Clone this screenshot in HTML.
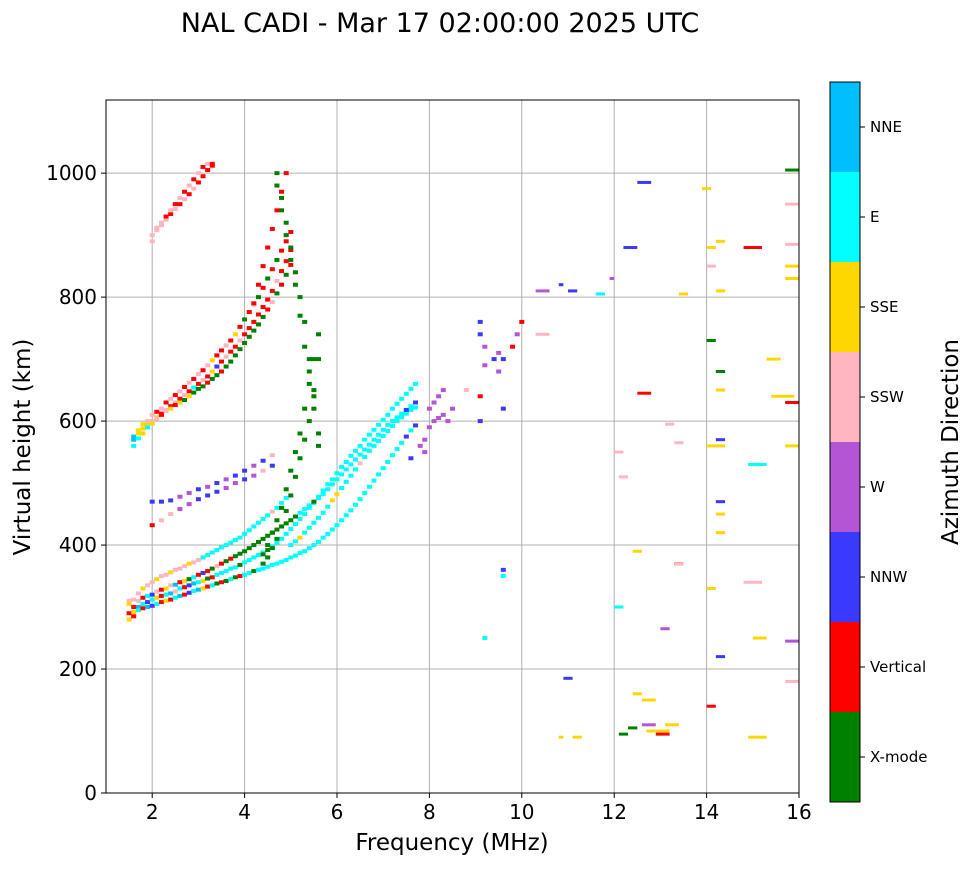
<!DOCTYPE html>
<html><head><meta charset="utf-8">
<style>
body{margin:0;background:#fff;width:972px;height:865px;overflow:hidden;font-family:"Liberation Sans","DejaVu Sans",sans-serif;}
svg text{font-family:"DejaVu Sans","Liberation Sans",sans-serif;}
</style></head>
<body>
<svg id="chart" width="972" height="865" xmlns="http://www.w3.org/2000/svg">
<text x="440" y="32" font-size="27" text-anchor="middle">NAL CADI - Mar 17 02:00:00 2025 UTC</text>
<g id="grid"></g>
<g id="marks"></g>
<g id="axes"></g>
<text x="452" y="850" font-size="23" text-anchor="middle">Frequency (MHz)</text>
<text transform="translate(30,447) rotate(-90)" font-size="23" text-anchor="middle">Virtual height (km)</text>
<g id="cbar"></g>
<text transform="translate(958,442) rotate(-90)" font-size="23" text-anchor="middle">Azimuth Direction</text>
</svg>
<script>
const xTicks=[2,4,6,8,10,12,14,16];
const yTicks=[0,200,400,600,800,1000];
const dirNames=["X-mode","Vertical","NNW","W","SSW","SSE","E","NNE"];
const dirColors=["#008000","#ff0000","#3a3aff","#b455d6","#ffb6c1","#ffd700","#00ffff","#00bfff"];
const trA_f=[1.5,1.6,1.7,1.8,1.9,2.0,2.1,2.2,2.3,2.4,2.5,2.6,2.7,2.8,2.9,3.0,3.1,3.2,3.3,3.4,3.5,3.6,3.7,3.8,3.9,4.0,4.1,4.2,4.3,4.4,4.5,4.6,4.7,4.8,4.9,5.0,5.1,5.2,5.3,5.4,5.5,5.6,5.7,5.8,5.9,6.0,6.1,6.2,6.3,6.4,6.5,6.6,6.7,6.8,6.9,7.0,7.1,7.2,7.3,7.4,7.5,7.6,7.7];
const trA_h=[290,292,295,298,300,302,305,308,310,312,315,318,320,323,326,328,330,333,335,338,340,342,345,348,350,352,355,358,360,362,365,368,370,373,376,380,383,387,390,395,400,405,412,418,425,432,440,448,456,465,474,484,494,504,514,524,534,545,555,565,575,585,593];
const trA_c="15617261516712675160106016606666666666666666666666666666666626232";
const trB_h=[305,300,310,315,318,320,325,328,330,335,336,340,342,345,348,352,355,358,362,366,370,374,378,382,386,390,395,400,405,410,415,420,425,430,435,440,446,452,458,464,470,476,482,490,498,506,514,522,530,538,546,554,562,570,578,586,594,600,606,612,618,624,630];
const trB_c="51416241547150612104101000000000000006660666666666666666666626262";
const trK_h=[280,285,300,305,308,312,315,318,320,322,325,330,332,335,338,340,342,346,348,352,355,358,362,364,368,372,376,380,384,388,392,398,404,410,418,426,434,442,450,460,468,478,488,498,506,516,526,534,544,552,560,570,578,586,594,602,610,620,628,636,644,652,660];
const trK_c="51762651674612765016666606666606666666666666666666666666666666666";
const trL_h=[310,312,322,330,335,340,345,350,352,356,360,362,366,370,372,376,380,384,388,392,396,400,404,408,412,418,424,430,436,442,448,454,460,468,476,400,406,412,420,428,436,444,452,462,472,482,492,502,512,522,532,542,552,560,568,576,584,592,600,606,612,618,622];
const trL_c="44454454454445446666666666666664666665666666556666466666666666666";
const trC_f=[1.6,1.7,1.8,1.9,2.0,2.1,2.2,2.3,2.4,2.5,2.6,2.7,2.8,2.9,3.0,3.1,3.2,3.3,3.4,3.5,3.6,3.7,3.8,3.9,4.0,4.1,4.2,4.3,4.4,4.5,4.6,4.7,4.8,4.9,5.0];
const trC_h=[570,580,588,594,600,606,612,618,624,630,636,642,648,654,660,666,672,680,688,696,704,712,720,730,740,750,760,772,784,796,810,826,842,858,876];
const trC_c="75554514141416141521411411111114111";
const trD_h=[560,572,580,590,596,604,610,616,620,626,630,634,640,646,652,656,662,668,674,680,688,696,706,716,726,736,746,756,768,780,792,806,820,836,852];
const trD_c="66565414515050001001000000000140101";
const trM_h=[575,585,595,600,610,615,620,630,636,642,648,655,662,668,676,682,690,698,706,714,722,730,740,752,764,776,788,800,815,830,845,860,875,890,905];
const trM_c="75544141414141414511415101401010111";
const trE_f=[2.0,2.1,2.2,2.3,2.4,2.5,2.6,2.7,2.8,2.9,3.0,3.1,3.2,3.3];
const trE_h=[900,908,916,925,934,942,950,958,966,975,985,995,1005,1012];
const trE_c="44441414141111";
const trN_h=[890,912,920,930,940,950,960,970,980,990,1000,1010,1015,1015];
const trN_c="44414141414141";
const trF_f=[2.0,2.2,2.4,2.6,2.8,3.0,3.2,3.4,3.6,3.8,4.0,4.2,4.4,4.6];
const trF_h=[432,440,450,458,466,474,480,486,492,500,506,512,520,528];
const trF_c="14433222332342";
const trP_h=[470,470,472,478,484,490,494,500,506,512,520,528,536,545];
const trP_c="22233232322324";
const trG_f=[4.4,4.5,4.6,4.7,4.8,4.9,5.0,5.1,5.2,5.3,5.4,5.5,5.6,5.6,5.5,5.4,5.3,5.2,5.1,5.0,4.9,4.8,4.7];
const trG_h=[370,380,395,410,430,455,480,510,540,570,600,640,700,560,620,680,720,770,820,860,900,940,980];
const trG_c="00000000000000000000000";
const trQ_h=[385,400,420,440,460,490,520,550,580,620,660,700,740,580,650,700,760,800,840,880,920,960,1000];
const trQ_c="00000000000000000000000";
const trH_f=[4.2,4.3,4.4,4.5,4.6,4.7,4.8,4.9];
const trH_h=[790,820,850,880,910,940,970,1000];
const trH_c="11111111";
const trI_f=[7.8,7.9,8.0,8.1,8.2,8.3,8.4,8.0,8.1,8.2,8.3,7.6,7.9,8.5];
const trI_h=[560,570,590,600,605,610,600,620,630,640,650,540,550,620];
const trI_c="33333333333233";
const trJ_f=[9.1,9.1,9.2,9.4,9.5,9.6,9.8,9.9,10.0,9.2,9.5,9.1,9.6,9.1,8.8,9.6,9.6,9.2];
const trJ_h=[760,740,720,700,680,700,720,740,760,690,710,600,620,640,650,360,350,250];
const trJ_c="223232131332214266";
const dash_f0=[10.3,10.8,11.0,11.6,11.9,12.2,12.5,13.4,13.9,14.0,14.2,14.0,14.2,14.8,15.3,15.7,15.7,15.7,15.7,15.7,15.7,15.7,14.0,14.2,14.2,14.9,15.4,14.0,14.2,12.5,13.1,13.3,12.0,12.1,12.4,13.0,13.3,14.2,14.2,14.8,15.0,15.7,15.7,14.0,14.2,12.6,12.9,12.6,12.9,14.9,10.3,10.8,11.1,12.1,12.3,14.2,14.2,12.0,12.4,12.7,13.1,14.0,13.3,10.9];
const dash_f1=[10.6,10.9,11.2,11.8,12.0,12.5,12.8,13.6,14.1,14.2,14.4,14.2,14.4,15.2,15.6,16.0,16.0,16.0,16.0,16.0,16.0,16.0,14.2,14.4,14.4,15.3,15.9,14.2,14.4,12.8,13.3,13.5,12.2,12.3,12.6,13.2,13.5,14.4,14.4,15.2,15.3,16.0,16.0,14.2,14.4,12.9,13.2,12.9,13.2,15.3,10.6,10.9,11.3,12.3,12.5,14.4,14.4,12.2,12.6,12.9,13.4,14.2,13.5,11.1];
const dash_h=[810,820,810,805,830,880,985,805,975,850,890,880,810,880,700,1005,950,885,850,830,630,560,730,680,650,530,640,560,560,645,595,565,550,510,390,265,370,570,470,340,250,245,180,330,420,150,100,110,95,90,740,90,90,95,105,450,220,300,160,100,110,140,370,185];
const dash_c="32263225545551504455150056555144445312245345555315455005265551424";

const X0=106,X1=799,Y0=793,Y1=100;
const xMin=1,xMax=16,yMin=0,yMax=1118;
const xs=v=>X0+(v-xMin)/(xMax-xMin)*(X1-X0);
const ys=v=>Y0-(v-yMin)/(yMax-yMin)*(Y0-Y1);
const NS="http://www.w3.org/2000/svg";
function mk(tag,attrs,parent){const e=document.createElementNS(NS,tag);for(const k in attrs)e.setAttribute(k,attrs[k]);parent.appendChild(e);return e;}
const grid=document.getElementById('grid'),marks=document.getElementById('marks'),axes=document.getElementById('axes'),cbar=document.getElementById('cbar');
xTicks.forEach(t=>{const l=mk('line',{x1:xs(t),x2:xs(t),y1:Y1,y2:Y0,stroke:'#b0b0b0','stroke-width':1},grid);

});
yTicks.forEach(t=>{const l=mk('line',{x1:X0,x2:X1,y1:ys(t),y2:ys(t),stroke:'#b0b0b0','stroke-width':1},grid);

});
function pt(f,h,c){const r=mk('rect',{x:xs(f)-2.5,y:ys(h)-2,width:5,height:4,fill:dirColors[+c]},marks);

}
function trace(F,H,C){for(let i=0;i<H.length;i++){if(F[i]===undefined)continue;pt(F[i],H[i],C[i]||'6');}}
trace(trA_f,trL_h,trL_c);trace(trA_f,trK_h,trK_c);
trace(trA_f,trA_h,trA_c);trace(trA_f,trB_h,trB_c);
trace(trC_f,trM_h,trM_c);
trace(trC_f,trC_h,trC_c);trace(trC_f,trD_h,trD_c);
trace(trE_f,trE_h,trE_c);trace(trE_f,trN_h,trN_c);
trace(trF_f,trF_h,trF_c);trace(trF_f,trP_h,trP_c);
trace(trG_f,trG_h,trG_c);trace(trG_f,trQ_h,trQ_c);trace(trH_f,trH_h,trH_c);
trace(trI_f,trI_h,trI_c);trace(trJ_f,trJ_h,trJ_c);
for(let i=0;i<dash_h.length;i++){const r=mk('rect',{x:xs(dash_f0[i]),y:ys(dash_h[i])-1.5,width:xs(dash_f1[i])-xs(dash_f0[i]),height:3,fill:dirColors[+dash_c[i]]},marks);

}
mk('rect',{x:X0,y:Y1,width:X1-X0,height:Y0-Y1,fill:'none',stroke:'#000','stroke-width':1},axes);
xTicks.forEach(t=>{mk('line',{x1:xs(t),x2:xs(t),y1:Y0,y2:Y0+5,stroke:'#000'},axes);
const tx=mk('text',{x:xs(t),y:Y0+26,'font-size':20,'text-anchor':'middle'},axes);tx.textContent=t;

});
yTicks.forEach(t=>{mk('line',{x1:X0-5,x2:X0,y1:ys(t),y2:ys(t),stroke:'#000'},axes);
const tx=mk('text',{x:X0-9,y:ys(t)+7,'font-size':20,'text-anchor':'end'},axes);tx.textContent=t;

});
const CB0=802,CB1=82,seg=(CB0-CB1)/dirNames.length;
dirNames.forEach((n,i)=>{const y=CB0-(i+1)*seg;
const r=mk('rect',{x:830,y:y,width:30,height:seg,fill:dirColors[i]},cbar);


mk('line',{x1:860,x2:865,y1:y+seg/2,y2:y+seg/2,stroke:'#000'},cbar);
const tx=mk('text',{x:870,y:y+seg/2+5,'font-size':15},cbar);tx.textContent=n;

});
mk('rect',{x:830,y:CB1,width:30,height:CB0-CB1,fill:'none',stroke:'#000'},cbar);
</script>
</body></html>
